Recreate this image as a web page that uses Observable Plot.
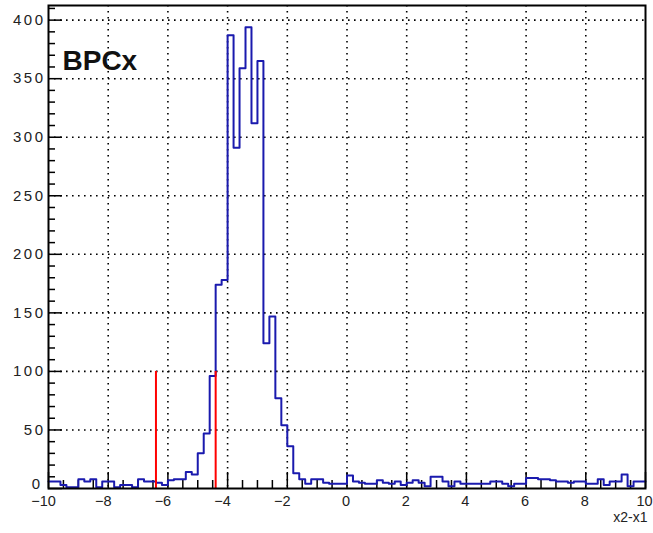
<!DOCTYPE html>
<html>
<head>
<meta charset="utf-8">
<script src="https://cdn.jsdelivr.net/npm/d3@7"></script>
<script src="https://cdn.jsdelivr.net/npm/@observablehq/plot@0.6"></script>
<style>
  html, body { margin: 0; padding: 0; background: #fff; }
  #chart svg { display: block; }
</style>
</head>
<body>
<div id="chart"></div>
<script>
// ---- data ----
const binLow = -10;
const binHigh = 10;
const binWidth = 0.2;
// 100 bin contents from x = -10 to 10
const countsLeft = [6, 6, 3, 1, 1, 8, 6, 8, 1, 6, 6, 1, 3, 3, 1, 8, 6, 6];      // -10 .. -6.6
const countsRise = [5, 3, 7, 8, 8, 14, 12, 30, 47, 96, 174, 178];               // -6.4 .. -4.2
const countsPeak = [387, 291, 359, 394, 312, 365];                              // -4.0 .. -3.0
const countsFall = [124, 147, 77, 54, 36, 13];                                  // -2.8 .. -1.8
const countsTail = [8, 4, 8, 8, 5, 4, 4, 4];                                    // -1.6 .. -0.2
const countsRight = [11, 6, 5, 4, 4, 7, 5, 4, 6, 3, 5, 7, 5, 2, 10, 10, 6, 2, 6, 4,
                     4, 4, 4, 4, 6, 6, 4, 2, 4, 4, 9, 9, 8, 8, 7, 6, 6, 5, 6, 6,
                     4, 4, 8, 3, 6, 6, 12, 2, 6, 6];                            // 0 .. 9.8
const counts = [...countsLeft, ...countsRise, ...countsPeak, ...countsFall, ...countsTail, ...countsRight];

const cutLines = [-6.4, -4.4];
const cutHeight = 100;

const xTicks = [-10, -8, -6, -4, -2, 0, 2, 4, 6, 8, 10];
const yTicks = [0, 50, 100, 150, 200, 250, 300, 350, 400];
const xMinorStep = 0.5;
const yMinorStep = 10;
const yMax = 412.5;

const title = "BPCx";
const xLabel = "x2-x1";

// ---- layout ----
const W = 653, H = 533;
const mL = 48, mR = 8, mT = 5, mB = 45;
const plotW = W - mL - mR, plotH = H - mT - mB;
const blue = "#1a1aae";
const font = "'Liberation Sans', Arial, Helvetica, sans-serif";

const steps = counts.map((c, i) => ({x: binLow + i * binWidth, y: c}));
steps.push({x: binHigh, y: counts[counts.length - 1]});

const xMinor = d3.range(binLow, binHigh + 1e-9, xMinorStep).filter(v => !xTicks.includes(v));
const yMinor = d3.range(0, yMax, yMinorStep).filter(v => !yTicks.includes(v));
const xGrid = xTicks.filter(v => v > binLow && v < binHigh);
const yGrid = yTicks.filter(v => v > 0);
const fmt = v => (v < 0 ? "\u2212" + Math.abs(v) : String(v));
const gridStyle = {stroke: "#000", strokeWidth: 1.6, strokeDasharray: "1.6,4.4"};

const chart = Plot.plot({
  width: W,
  height: H,
  marginLeft: mL,
  marginRight: mR,
  marginTop: mT,
  marginBottom: mB,
  x: {domain: [binLow, binHigh], axis: null},
  y: {domain: [0, yMax], axis: null},
  style: {fontFamily: font, background: "#fff", color: "#222", overflow: "visible"},
  marks: [
    Plot.ruleX(xGrid, {x: d => d, ...gridStyle}),
    Plot.ruleY(yGrid, {y: d => d, ...gridStyle}),
    Plot.tickX(xMinor, {x: d => d, insetTop: plotH - 8, stroke: "#000", strokeWidth: 1.5}),
    Plot.tickX(xTicks, {x: d => d, insetTop: plotH - 16, stroke: "#000", strokeWidth: 1.5}),
    Plot.tickY(yMinor, {y: d => d, insetRight: plotW - 7, stroke: "#000", strokeWidth: 1.5}),
    Plot.tickY(yTicks, {y: d => d, insetRight: plotW - 14, stroke: "#000", strokeWidth: 1.5}),
    Plot.line(steps, {x: "x", y: "y", curve: "step-after", stroke: blue, strokeWidth: 2}),
    Plot.ruleX(cutLines, {x: d => d, y1: 0, y2: cutHeight, stroke: "#ff0000", strokeWidth: 2}),
    Plot.frame({stroke: "#000", strokeWidth: 2}),
    Plot.text(xTicks.filter(v => v < 0), {x: d => d, y: 0, text: fmt, lineAnchor: "top", dy: 7, dx: -5, fontSize: 14.5, fill: "#222"}),
    Plot.text(xTicks.filter(v => v >= 0), {x: d => d, y: 0, text: fmt, lineAnchor: "top", dy: 7, dx: -1, fontSize: 14.5, fill: "#222"}),
    Plot.text(yTicks.filter(v => v > 0), {x: binLow, y: d => d, text: fmt, textAnchor: "end", lineAnchor: "middle", dx: -3, fontSize: 15, fill: "#222", ariaDescription: "ylabels"}),
    Plot.text(yTicks.filter(v => v === 0), {x: binLow, y: d => d, text: fmt, textAnchor: "end", lineAnchor: "middle", dx: -6, dy: -4, fontSize: 15, fill: "#222", ariaDescription: "ylabels"}),
    Plot.text([title], {frameAnchor: "top-left", text: d => d, textAnchor: "start", lineAnchor: "middle", dx: 14, dy: 56, fontSize: 28, fontWeight: "bold", fill: "#111"}),
    Plot.text([xLabel], {frameAnchor: "bottom-right", text: d => d, textAnchor: "end", lineAnchor: "middle", dy: 29, dx: 2, fontSize: 14, fill: "#222"})
  ]
});

d3.select(chart).selectAll('g[aria-description="ylabels"] text').style("letter-spacing", "2.5px");
document.getElementById("chart").appendChild(chart);
</script>
</body>
</html>
